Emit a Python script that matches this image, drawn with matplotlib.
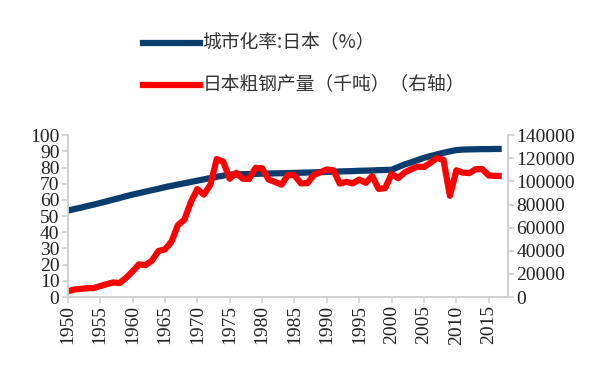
import matplotlib
matplotlib.use("Agg")
import matplotlib.pyplot as plt
from matplotlib.lines import Line2D

# 数据
years = list(range(1950, 2018))
urban_rate = [53.4, 54.3, 55.2, 56.2, 57.1, 58.1, 59.1, 60.2, 61.2, 62.3,
              63.3, 64.2, 65.1, 66.0, 66.9, 67.9, 68.7, 69.5, 70.3, 71.1,
              71.9, 72.7, 73.5, 74.3, 75.0, 75.7, 75.8, 75.9, 76.0, 76.1,
              76.2, 76.3, 76.4, 76.5, 76.6, 76.7, 76.8, 76.9, 77.0, 77.2,
              77.3, 77.4, 77.6, 77.7, 77.8, 78.0, 78.1, 78.2, 78.4, 78.5,
              78.6, 80.3, 81.9, 83.2, 84.6, 86.0, 87.1, 88.1, 89.1, 90.0,
              90.8, 91.1, 91.2, 91.3, 91.4, 91.4, 91.5, 91.5]
steel = [4839, 6502, 6988, 7662, 7750, 9408, 11106, 12570, 12118, 16629,
         22138, 28268, 27546, 31501, 39799, 41161, 47784, 62154, 66893, 82166,
         93322, 88557, 96900, 119322, 117131, 102313, 107399, 102405, 102105, 111748,
         111395, 101676, 99548, 97179, 105586, 105279, 98275, 98513, 105681, 107908,
         110339, 109649, 98132, 99632, 98295, 101640, 98801, 104545, 93548, 94192,
         106444, 102866, 107745, 110511, 112718, 112471, 116226, 120203, 118739, 87534,
         109599, 107601, 107232, 110595, 110666, 105134, 104775, 104661]
xticks = list(range(1950, 2016, 5))
label_urban = "城市化率:日本（%）"
label_steel = "日本粗钢产量（千吨）（右轴）"

blue = "#0b3c6e"
red = "#ff0000"
grey = "#d0d0d0"
txt = "#333333"

plt.rcParams['font.family'] = ['Liberation Serif', 'DejaVu Serif']

fig = plt.figure(figsize=(6, 3.72), dpi=100)
ax = fig.add_axes([0.113, 0.2016, 0.734, 0.435])
ax2 = ax.twinx()

ax.plot(years, urban_rate, color=blue, lw=4.5, solid_capstyle='butt')
ax2.plot(years, steel, color=red, lw=4.5, solid_capstyle='butt')

ax.set_xlim(1950, 2018)
ax.set_ylim(0, 100)
ax2.set_ylim(0, 140000)
ax.set_yticks(range(0, 101, 10))
ax2.set_yticks(range(0, 140001, 20000))
ax.set_xticks(xticks)
ax.set_xticklabels([str(y) for y in xticks], rotation=90)

for a in (ax, ax2):
    for s in a.spines.values():
        s.set_color(grey)
        s.set_linewidth(1.2)
    a.spines['top'].set_visible(False)
    a.tick_params(colors=grey, labelcolor="#222222", labelsize=14, width=1.2, length=4, pad=2)
    for lab in a.get_xticklabels() + a.get_yticklabels():
        lab.set_fontfamily('Liberation Serif')

# 图例
fig.add_artist(Line2D([0.238, 0.333], [0.884, 0.884], color=blue, lw=4.5,
                      transform=fig.transFigure))
fig.add_artist(Line2D([0.238, 0.333], [0.771, 0.771], color=red, lw=4.5,
                      transform=fig.transFigure))
cjk = ['Noto Sans CJK SC', 'DejaVu Sans']
fig.text(0.337, 0.884, label_urban, family=cjk, fontsize=13.5, color=txt, va='center')
fig.text(0.337, 0.771, label_steel, family=cjk, fontsize=13.5, color=txt, va='center')

fig.savefig("out.png", dpi=100)
